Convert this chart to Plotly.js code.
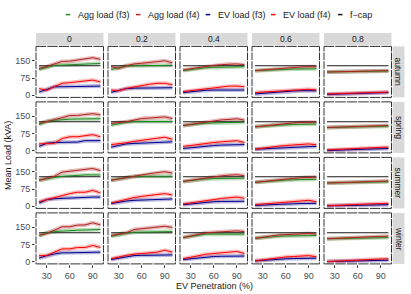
<!DOCTYPE html>
<html><head><meta charset="utf-8">
<script src="https://cdn.plot.ly/plotly-3.0.1.min.js"></script>
<style>html,body{margin:0;padding:0;background:#fff}#chart{width:411px;height:294px}</style>
</head><body><div id="chart"></div>
<script>
// ---- data ----
const seasons = ['autumn', 'spring', 'summer', 'winter'];
const penetrations = ['0', '0.2', '0.4', '0.6', '0.8'];
const evPen = [20, 30, 40, 50, 60, 70, 80, 90, 100];
const legendLabels = ['Agg load (f3)', 'Agg load (f4)', 'EV load (f3)', 'EV load (f4)', 'f\u2212cap'];
const xTicks = [30, 60, 90];
const yTicks = [0, 75, 150];
const fcapBySeason = [128, 126, 128, 126];

const aggF4_autumn = [
  [117,124,136,147,148,153,160,163,156],
  [124,117,128,136,139,141,146,150,141],
  [110,115,121,127,130,133,136,136,133],
  [107,110,114,117,119,121,123,124,124],
  [101,102,103,104,105,106,106,107,107]];
const aggF4_spring = [
  [119,126,135,144,153,153,157,161,156],
  [119,122,126,133,140,142,144,147,140],
  [110,115,121,127,131,134,136,139,133],
  [104,108,112,116,119,121,123,124,124],
  [101,102,104,105,106,107,108,109,110]];
const aggF4_summer = [
  [113,122,130,148,152,154,157,164,155],
  [113,118,124,130,136,142,146,150,144],
  [108,113,119,125,129,132,135,137,133],
  [104,108,112,116,119,121,124,126,127],
  [101,102,104,105,106,107,108,109,110]];
const aggF4_winter = [
  [114,123,137,152,152,159,160,169,160],
  [114,120,126,140,143,146,149,154,149],
  [105,112,119,126,128,130,132,134,131],
  [102,107,112,116,118,120,122,123,120],
  [100,102,104,106,107,108,109,110,111]];

const aggF3_autumn = [
  [112,122,130,131,132,134,136,137,138],
  [112,120,127,128,129,130,130,130,130],
  [107,112,116,120,121,122,123,124,124],
  [107,109,111,112,113,114,114,115,115],
  [101,102,102,103,103,104,104,105,105]];
const aggF3_spring = [
  [114,127,132,136,137,138,139,139,139],
  [111,118,124,127,127,127,127,127,127],
  [110,114,117,120,121,122,123,124,124],
  [104,107,110,112,113,114,115,116,116],
  [101,102,103,104,105,105,106,106,107]];
const aggF3_summer = [
  [113,120,126,130,133,136,136,136,136],
  [113,119,125,130,130,130,130,130,130],
  [108,112,116,119,120,121,121,122,122],
  [104,107,110,112,114,115,116,117,117],
  [101,102,103,104,104,105,105,106,106]];
const aggF3_winter = [
  [114,126,131,134,136,137,138,139,140],
  [111,118,124,128,129,130,130,131,131],
  [105,110,115,120,120,120,120,120,120],
  [102,106,109,111,112,113,113,114,114],
  [100,101,102,103,103,104,104,105,105]];

const evF4_autumn = [
  [29,22,38,52,55,59,63,66,58],
  [23,20,30,37,43,48,52,52,46],
  [16,19,23,28,32,36,40,40,37],
  [12,14,17,20,22,24,26,26,23],
  [6,7,8,9,10,11,12,13,14]];
const evF4_spring = [
  [30,31,33,53,61,61,66,70,61],
  [27,30,35,41,45,50,55,59,50],
  [19,24,29,33,36,39,42,44,36],
  [7,12,16,20,23,26,28,30,26],
  [4,6,8,9,11,12,14,15,16]];
const evF4_summer = [
  [20,29,38,48,55,61,61,69,58],
  [14,23,31,38,43,46,49,55,49],
  [10,15,20,25,31,34,37,40,35],
  [7,10,14,17,20,22,24,26,20],
  [2,4,6,8,9,10,11,12,13]];
const evF4_winter = [
  [27,27,42,56,56,62,62,71,62],
  [13,22,28,33,36,39,42,50,42],
  [13,20,27,33,36,39,42,45,36],
  [4,9,14,18,21,23,25,27,22],
  [1,3,5,7,8,10,11,12,13]];

const evF3_autumn = [
  [14,27,37,37,37,37,37,40,40],
  [13,22,29,31,32,33,33,33,33],
  [12,16,20,22,23,23,23,23,23],
  [6,9,12,15,17,19,20,20,20],
  [4,5,6,7,8,9,10,11,12]];
const evF3_spring = [
  [19,33,36,36,37,38,44,44,44],
  [16,23,30,32,34,36,38,39,39],
  [10,14,18,21,23,25,26,27,27],
  [7,9,11,13,15,16,17,18,19],
  [1,3,4,5,6,7,8,9,10]];
const evF3_summer = [
  [14,29,33,35,36,37,40,40,40],
  [12,18,23,26,27,29,30,31,32],
  [7,11,15,18,20,21,22,22,22],
  [4,6,8,9,10,11,12,13,13],
  [2,3,4,5,5,6,6,7,7]];
const evF3_winter = [
  [16,27,34,39,39,39,42,42,42],
  [10,16,22,27,28,29,29,30,30],
  [10,14,18,22,23,24,24,25,25],
  [4,7,10,12,13,14,15,15,16],
  [1,2,3,4,5,5,6,6,7]];

const aggF3 = [aggF3_autumn, aggF3_spring, aggF3_summer, aggF3_winter];
const aggF4 = [aggF4_autumn, aggF4_spring, aggF4_summer, aggF4_winter];
const evF3 = [evF3_autumn, evF3_spring, evF3_summer, evF3_winter];
const evF4 = [evF4_autumn, evF4_spring, evF4_summer, evF4_winter];

// ---- styling / geometry ----
const W = 411, H = 294;
const FONT = 'Liberation Sans, Arial, sans-serif';
const colors = ['#228B22', '#B22222', '#00008B', '#FF0000', '#1a1a1a'];
const bandColors = ['rgba(34,139,34,0.30)', 'rgba(178,34,34,0.30)', 'rgba(0,0,139,0.28)', 'rgba(255,0,0,0.25)'];
const xRange = [16, 104], yRange = [-9, 212];
const colLeft0 = 36, colStep = 72, colW = 67.5;
const rowTop0 = 46.4, rowStep = 55.5, rowH = 51;
const px = p => p / W, py = p => 1 - p / H;

const traces = [];
const shapes = [];
const annotations = [];
const layout = {
  width: W, height: H,
  margin: {l: 0, r: 0, t: 0, b: 0},
  paper_bgcolor: '#fff', plot_bgcolor: '#fff',
  showlegend: false,
  font: {family: FONT, size: 9, color: '#4d4d4d'}
};

const seriesSets = [aggF3, aggF4, evF3, evF4];

for (let r = 0; r < seasons.length; r++) {
  for (let c = 0; c < penetrations.length; c++) {
    const k = r * penetrations.length + c + 1;
    const xa = 'x' + (k === 1 ? '' : k), ya = 'y' + (k === 1 ? '' : k);
    const left = colLeft0 + colStep * c, right = left + colW;
    const top = rowTop0 + rowStep * r, bottom = top + rowH;
    const isBottom = r === seasons.length - 1, isLeft = c === 0;
    layout['xaxis' + (k === 1 ? '' : k)] = {
      domain: [px(left), px(right)], anchor: ya, range: xRange,
      showgrid: false, zeroline: false, showline: false,
      tickvals: xTicks, ticks: isBottom ? 'outside' : '', ticklen: 3, tickcolor: '#333',
      showticklabels: isBottom, tickfont: {size: 9, color: '#4d4d4d'}
    };
    layout['yaxis' + (k === 1 ? '' : k)] = {
      domain: [py(bottom), py(top)], anchor: xa, range: yRange,
      showgrid: false, zeroline: false, showline: false,
      tickvals: yTicks, ticks: isLeft ? 'outside' : '', ticklen: 3, tickcolor: '#333',
      showticklabels: isLeft, tickfont: {size: 9, color: '#4d4d4d'}
    };
    // bands (wide translucent underlay)
    seriesSets.forEach((set, i) => {
      traces.push({x: evPen, y: set[r][c], xaxis: xa, yaxis: ya, mode: 'lines',
        line: {color: bandColors[i], width: 4}, hoverinfo: 'skip'});
    });
    // f-cap
    traces.push({x: [evPen[0], evPen[evPen.length - 1]], y: [fcapBySeason[r], fcapBySeason[r]],
      xaxis: xa, yaxis: ya, mode: 'lines', line: {color: colors[4], width: 1.1}});
    // lines
    seriesSets.forEach((set, i) => {
      traces.push({x: evPen, y: set[r][c], xaxis: xa, yaxis: ya, mode: 'lines',
        line: {color: colors[i], width: 1}});
    });
    // panel border
    shapes.push({type: 'rect', xref: 'paper', yref: 'paper', layer: 'above',
      x0: px(left), x1: px(right), y0: py(bottom), y1: py(top),
      line: {color: '#333333', width: 1}, fillcolor: 'rgba(0,0,0,0)'});
    // white grid breaks on the border
    [30, 45, 60, 75, 90].forEach(v => {
      const xp = left + (v - xRange[0]) / (xRange[1] - xRange[0]) * colW;
      [top, bottom].forEach(e => shapes.push({type: 'line', xref: 'paper', yref: 'paper', layer: 'above',
        x0: px(xp), x1: px(xp), y0: py(e - 1.6), y1: py(e + 1.6), line: {color: '#ffffff', width: 1.1}}));
    });
    [0, 37.5, 75, 112.5, 150, 187.5].forEach(v => {
      const yp = bottom - (v - yRange[0]) / (yRange[1] - yRange[0]) * rowH;
      [left, right].forEach(e => shapes.push({type: 'line', xref: 'paper', yref: 'paper', layer: 'above',
        x0: px(e - 1.6), x1: px(e + 1.6), y0: py(yp), y1: py(yp), line: {color: '#ffffff', width: 1.1}}));
    });
    // top strip
    if (r === 0) {
      shapes.push({type: 'rect', xref: 'paper', yref: 'paper', layer: 'below',
        x0: px(left), x1: px(right), y0: py(45.3), y1: py(33), line: {width: 0}, fillcolor: '#D9D9D9'});
      annotations.push({xref: 'paper', yref: 'paper', x: px((left + right) / 2), y: py(39.2),
        text: penetrations[c], showarrow: false, font: {size: 8.5, color: '#1a1a1a'}, xanchor: 'center', yanchor: 'middle'});
    }
    // right strip
    if (c === penetrations.length - 1) {
      shapes.push({type: 'rect', xref: 'paper', yref: 'paper', layer: 'below',
        x0: px(392.6), x1: px(404.5), y0: py(bottom), y1: py(top), line: {width: 0}, fillcolor: '#D9D9D9'});
      annotations.push({xref: 'paper', yref: 'paper', x: px(398.5), y: py((top + bottom) / 2),
        text: seasons[r], showarrow: false, textangle: 90, font: {size: 8.5, color: '#1a1a1a'}, xanchor: 'center', yanchor: 'middle'});
    }
  }
}

// legend (manual)
const keyX = [65.7, 136, 205.7, 271, 338];
legendLabels.forEach((lab, i) => {
  shapes.push({type: 'line', xref: 'paper', yref: 'paper', x0: px(keyX[i]), x1: px(keyX[i] + 4.5),
    y0: py(14.6), y1: py(14.6), line: {color: colors[i], width: 1.5}});
  annotations.push({xref: 'paper', yref: 'paper', x: px(keyX[i] + 9.8), y: py(14.6), text: lab,
    showarrow: false, xanchor: 'left', yanchor: 'middle', font: {size: 9, color: '#1a1a1a'}});
});

// axis titles
annotations.push({xref: 'paper', yref: 'paper', x: px(214), y: py(286), text: 'EV Penetration (%)',
  showarrow: false, xanchor: 'center', yanchor: 'middle', font: {size: 9, color: '#1a1a1a'}});
annotations.push({xref: 'paper', yref: 'paper', x: px(8), y: py(156), text: 'Mean Load (kVA)',
  showarrow: false, textangle: -90, xanchor: 'center', yanchor: 'middle', font: {size: 9, color: '#1a1a1a'}});

layout.shapes = shapes;
layout.annotations = annotations;

Plotly.newPlot('chart', traces, layout, {staticPlot: true, displayModeBar: false});
</script></body></html>
